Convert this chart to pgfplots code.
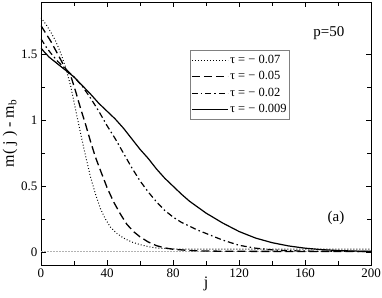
\documentclass[border=0pt]{standalone}
\usepackage{pgfplots}
\pgfplotsset{compat=1.18}
\usepackage{fontspec}
\setmainfont{Liberation Serif}
\newcommand{\lf}{\fontsize{12.5}{14}\selectfont}
\begin{document}
\begin{tikzpicture}
\begin{axis}[
  scale only axis,
  width=330pt, height=263pt,
  xmin=0, xmax=200, ymin=-0.1, ymax=1.9,
  xtick={0,40,80,120,160,200},
  ytick={0,0.5,1,1.5},
  yticklabels={0,0.5,1,1.5},
  minor x tick num=1,
  minor y tick num=1,
  tick align=inside,
  major tick length=5pt,
  minor tick length=4pt,
  tick style={black, line width=0.6pt},
  axis line style={line width=0.8pt},
  /pgf/number format/assume math mode=true,
  tick label style={font=\fontsize{13}{15}\selectfont},
  xlabel={j},
  ylabel={m( j ) - m\textsubscript{b}},
  label style={font=\fontsize{16}{18}\selectfont},
  xlabel style={at={(axis description cs:0.5,-0.07)}, anchor=center},
  ylabel style={at={(axis description cs:-0.094,0.5)}, anchor=center},
  legend cell align=left,
  legend style={at={(rel axis cs:0.4515,0.8175)}, anchor=north west,
    draw=gray, line width=0.6pt, font=\lf,
    nodes={text height=9pt, text depth=3pt, inner ysep=2.3pt, inner xsep=1.5pt},
    inner xsep=1pt, inner ysep=1.5pt, row sep=0pt},
  legend image code/.code={\draw[#1] (0pt,0pt) -- (36pt,0pt);},
]
\addplot[gray!60, line width=0.8pt, dash pattern=on 2pt off 1pt, forget plot] coordinates {(0,0) (200,0)};

\addplot[black, line width=1pt, dash pattern=on 0.9pt off 2.1pt] coordinates {
(0,1.78) (3,1.73) (6,1.67) (9,1.60) (12,1.51) (15,1.40) (18,1.26) (21,1.08)
(24,0.90) (27,0.73) (30,0.57) (33,0.44) (36,0.33) (39,0.25) (42,0.19)
(46,0.14) (50,0.105) (55,0.075) (60,0.055) (65,0.04) (70,0.03) (80,0.022)
(90,0.02) (120,0.02) (160,0.02) (200,0.02)};
\addlegendentry{τ = − 0.07}

\addplot[black, line width=1.3pt, dash pattern=on 8pt off 4pt] coordinates {
(0,1.72) (3,1.66) (6,1.60) (9,1.53) (12,1.46) (15,1.39) (18,1.34) (21,1.22)
(24,1.09) (27,0.97) (30,0.84) (33,0.72) (36,0.62) (40,0.49) (44,0.38)
(48,0.29) (52,0.21) (56,0.155) (60,0.114) (65,0.075) (70,0.047) (75,0.03)
(80,0.02) (90,0.01) (100,0.006) (120,0.004) (160,0.003) (200,0.003)};
\addlegendentry{τ = − 0.05}

\addplot[black, line width=1.2pt, dash pattern=on 6pt off 3pt on 1.5pt off 3pt] coordinates {
(0,1.62) (3,1.56) (6,1.51) (10,1.45) (15,1.39) (20,1.33) (25,1.26) (30,1.17)
(35,1.07) (40,0.96) (45,0.86) (50,0.75) (55,0.64) (60,0.54) (65,0.455)
(70,0.38) (75,0.315) (80,0.265) (85,0.225) (90,0.195) (95,0.165) (100,0.14)
(110,0.09) (120,0.05) (130,0.028) (140,0.015) (150,0.009) (160,0.006)
(180,0.004) (200,0.003)};
\addlegendentry{τ = − 0.02}

\addplot[black, line width=1.2pt] coordinates {
(0,1.55) (2,1.52) (5,1.48) (10,1.43) (15,1.38) (20,1.33) (25,1.265) (30,1.20)
(35,1.13) (40,1.07) (45,1.01) (50,0.94) (55,0.86) (60,0.78) (65,0.71)
(70,0.63) (75,0.56) (80,0.50) (85,0.44) (90,0.385) (95,0.34) (100,0.295)
(110,0.22) (120,0.155) (130,0.105) (140,0.07) (150,0.045) (160,0.028)
(170,0.017) (180,0.01) (190,0.006) (200,0.004)};
\addlegendentry{τ = − 0.009}

\node[font=\fontsize{15}{17}\selectfont] at (axis cs:174.5,1.66) {p=50};
\node[font=\fontsize{15}{17}\selectfont] at (axis cs:178.8,0.255) {(a)};
\end{axis}
\pgfresetboundingbox
\path[use as bounding box] (current axis.south west) ++(-41pt,-32pt) rectangle ([xshift=11pt,yshift=2pt]current axis.north east);
\end{tikzpicture}
\end{document}
